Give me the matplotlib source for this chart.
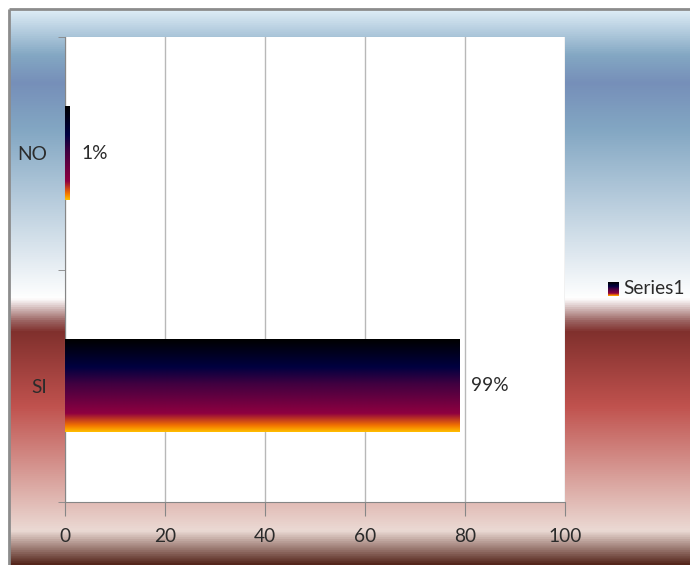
import numpy as np
import matplotlib
matplotlib.use("Agg")
import matplotlib.pyplot as plt
from matplotlib.colors import LinearSegmentedColormap

plt.rcParams['font.family'] = ['Lato', 'DejaVu Sans']

# Survey answers (counts) and axis ticks
categories = ['SI', 'NO']
counts = [79, 1]
x_ticks = [0, 20, 40, 60, 80, 100]
series_name = 'Series1'

# "Late Sunset" fill for the bars, top -> bottom
sunset = LinearSegmentedColormap.from_list('sunset', [
    (0.00, '#000000'), (0.30, '#000040'), (0.48, '#400040'),
    (0.80, '#8F0040'), (0.93, '#F27300'), (1.00, '#FFBF00')])
# "Horizon" fill for the chart area, top -> bottom
horizon = LinearSegmentedColormap.from_list('horizon', [
    (0.00, '#DCEBF5'), (0.08, '#83A7C3'), (0.13, '#768FB9'),
    (0.215, '#83A7C3'), (0.52, '#FFFFFF'), (0.56, '#9C6563'),
    (0.58, '#80302D'), (0.715, '#C0524E'), (0.94, '#EBDAD4'),
    (1.00, '#55261C')])

W, H = 690, 565
FS = 13.8
TXT = '#2b2b2b'
fig = plt.figure(figsize=(W / 100, H / 100), dpi=100)

grad = np.linspace(0, 1, 512).reshape(-1, 1)

# chart area background with its grey frame on the left / top
bg = fig.add_axes([10 / W, 0, 1 - 10 / W, 1 - 10 / H])
bg.imshow(grad, cmap=horizon, aspect='auto', origin='upper',
          extent=[0, 1, 0, 1], interpolation='bilinear')
bg.set_axis_off()
frame = fig.add_axes([0, 0, 1, 1], facecolor='none')
frame.set_xlim(0, W)
frame.set_ylim(H, 0)
frame.plot([9, 9], [H, 9], color='#8c8c8c', lw=2, solid_capstyle='butt')
frame.plot([9, W], [9, 9], color='#8c8c8c', lw=2, solid_capstyle='butt')
frame.set_axis_off()

ax = fig.add_axes([65 / W, 1 - 502 / H, 500 / W, 465 / H])
ax.set_facecolor('white')
ypos = np.arange(len(categories))
bars = ax.barh(ypos, counts, height=0.4, color='none', zorder=3)
for bar in bars:
    x0, y0 = bar.get_x(), bar.get_y()
    ax.imshow(grad, cmap=sunset, aspect='auto', origin='upper',
              extent=[x0, x0 + bar.get_width(), y0, y0 + bar.get_height()],
              interpolation='bilinear', zorder=3)

total = sum(counts)
for y, v in zip(ypos, counts):
    ax.text(v + 2.2, y, f'{round(v / total * 100)}%', va='center', ha='left',
            fontsize=FS, color=TXT)

ax.set_xlim(0, 100)
ax.set_ylim(-0.5, len(categories) - 0.5)
ax.set_xticks(x_ticks)
ax.set_xticklabels([str(t) for t in x_ticks], fontsize=FS, color=TXT)
ax.set_yticks(ypos)
ax.set_yticklabels(categories, fontsize=FS, color=TXT)
ax.set_yticks(np.arange(-0.5, len(categories)), minor=True)
ax.tick_params(axis='y', which='major', length=0, pad=13)
ax.tick_params(axis='y', which='minor', length=5, color='#868686', direction='out')
ax.tick_params(axis='x', length=10, color='#868686', direction='out', pad=9)
ax.grid(axis='x', color='#b8b8b8', lw=1, zorder=1)
ax.set_axisbelow(True)
for side in ['top', 'right']:
    ax.spines[side].set_visible(False)
for side in ['left', 'bottom']:
    ax.spines[side].set_color('#868686')

# legend: gradient swatch and series name
sw = fig.add_axes([608 / W, 1 - 296 / H, 11 / W, 14 / H])
sw.imshow(grad, cmap=sunset, aspect='auto', origin='upper', interpolation='bilinear')
sw.set_axis_off()
fig.text(623 / W, 1 - 289 / H, series_name, fontsize=FS, color=TXT,
         va='center', ha='left')

fig.savefig('out.png', dpi=100)
